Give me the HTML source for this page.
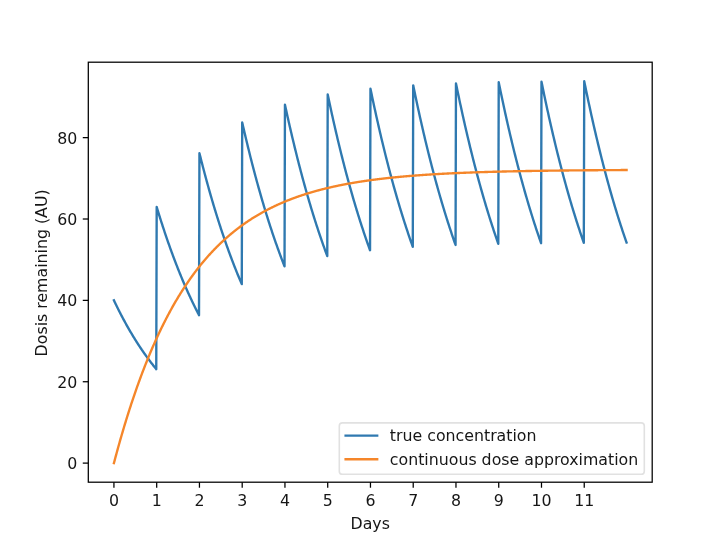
<!DOCTYPE html>
<html><head><meta charset="utf-8"><title>Dose plot</title>
<style>html,body{margin:0;padding:0;background:#fff}body{width:720px;height:541px;overflow:hidden}</style>
</head><body>
<svg width="720" height="541" viewBox="0 0 720 541" style="display:block">
<rect width="720" height="541" fill="#fff"/>
<g>
<g fill="none" stroke-width="2.368" stroke-linejoin="round" stroke-linecap="square">
<polyline stroke="#2f79b0" points="113.93,300.38 114.36,301.28 114.79,302.17 115.21,303.06 115.64,303.95 116.07,304.83 116.50,305.70 116.92,306.57 117.35,307.44 117.78,308.30 118.21,309.16 118.63,310.01 119.06,310.85 119.49,311.70 119.92,312.53 120.35,313.37 120.77,314.19 121.20,315.02 121.63,315.84 122.06,316.65 122.48,317.46 122.91,318.27 123.34,319.07 123.77,319.86 124.19,320.66 124.62,321.44 125.05,322.23 125.48,323.01 125.90,323.78 126.33,324.55 126.76,325.32 127.19,326.08 127.61,326.84 128.04,327.59 128.47,328.34 128.90,329.09 129.32,329.83 129.75,330.56 130.18,331.30 130.61,332.03 131.03,332.75 131.46,333.47 131.89,334.19 132.32,334.90 132.74,335.61 133.17,336.31 133.60,337.02 134.03,337.71 134.45,338.41 134.88,339.10 135.31,339.78 135.74,340.46 136.16,341.14 136.59,341.82 137.02,342.49 137.45,343.15 137.87,343.82 138.30,344.48 138.73,345.13 139.16,345.79 139.59,346.43 140.01,347.08 140.44,347.72 140.87,348.36 141.30,348.99 141.72,349.63 142.15,350.25 142.58,350.88 143.01,351.50 143.43,352.11 143.86,352.73 144.29,353.34 144.72,353.95 145.14,354.55 145.57,355.15 146.00,355.75 146.43,356.34 146.85,356.93 147.28,357.52 147.71,358.10 148.14,358.68 148.56,359.26 148.99,359.83 149.42,360.41 149.85,360.97 150.27,361.54 150.70,362.10 151.13,362.66 151.56,363.21 151.98,363.77 152.41,364.32 152.84,364.86 153.27,365.41 153.69,365.95 154.12,366.48 154.55,367.02 154.98,367.55 155.40,368.08 155.83,368.60 156.26,369.13 156.69,206.91 157.11,208.33 157.54,209.74 157.97,211.14 158.40,212.53 158.82,213.92 159.25,215.30 159.68,216.67 160.11,218.03 160.54,219.39 160.96,220.73 161.39,222.07 161.82,223.41 162.25,224.73 162.67,226.05 163.10,227.36 163.53,228.67 163.96,229.96 164.38,231.25 164.81,232.53 165.24,233.81 165.67,235.08 166.09,236.34 166.52,237.59 166.95,238.84 167.38,240.08 167.80,241.31 168.23,242.54 168.66,243.76 169.09,244.97 169.51,246.18 169.94,247.38 170.37,248.57 170.80,249.76 171.22,250.94 171.65,252.11 172.08,253.28 172.51,254.44 172.93,255.59 173.36,256.74 173.79,257.88 174.22,259.01 174.64,260.14 175.07,261.26 175.50,262.38 175.93,263.49 176.35,264.59 176.78,265.69 177.21,266.78 177.64,267.87 178.06,268.95 178.49,270.02 178.92,271.09 179.35,272.15 179.78,273.21 180.20,274.26 180.63,275.30 181.06,276.34 181.49,277.37 181.91,278.40 182.34,279.42 182.77,280.44 183.20,281.45 183.62,282.45 184.05,283.45 184.48,284.45 184.91,285.43 185.33,286.42 185.76,287.39 186.19,288.36 186.62,289.33 187.04,290.29 187.47,291.25 187.90,292.20 188.33,293.14 188.75,294.08 189.18,295.02 189.61,295.95 190.04,296.87 190.46,297.79 190.89,298.71 191.32,299.61 191.75,300.52 192.17,301.42 192.60,302.31 193.03,303.20 193.46,304.09 193.88,304.96 194.31,305.84 194.74,306.71 195.17,307.57 195.59,308.43 196.02,309.29 196.45,310.14 196.88,310.99 197.30,311.83 197.73,312.66 198.16,313.50 198.59,314.32 199.01,315.15 199.44,153.23 199.87,154.95 200.30,156.65 200.73,158.34 201.15,160.03 201.58,161.71 202.01,163.37 202.44,165.03 202.86,166.68 203.29,168.32 203.72,169.95 204.15,171.57 204.57,173.18 205.00,174.78 205.43,176.38 205.86,177.96 206.28,179.54 206.71,181.11 207.14,182.67 207.57,184.22 207.99,185.76 208.42,187.30 208.85,188.82 209.28,190.34 209.70,191.85 210.13,193.35 210.56,194.84 210.99,196.32 211.41,197.80 211.84,199.26 212.27,200.72 212.70,202.17 213.12,203.62 213.55,205.05 213.98,206.48 214.41,207.90 214.83,209.31 215.26,210.71 215.69,212.11 216.12,213.50 216.54,214.88 216.97,216.25 217.40,217.61 217.83,218.97 218.25,220.32 218.68,221.66 219.11,223.00 219.54,224.33 219.97,225.65 220.39,226.96 220.82,228.27 221.25,229.57 221.68,230.86 222.10,232.14 222.53,233.42 222.96,234.69 223.39,235.95 223.81,237.21 224.24,238.46 224.67,239.70 225.10,240.93 225.52,242.16 225.95,243.38 226.38,244.60 226.81,245.81 227.23,247.01 227.66,248.20 228.09,249.39 228.52,250.58 228.94,251.75 229.37,252.92 229.80,254.08 230.23,255.24 230.65,256.39 231.08,257.53 231.51,258.67 231.94,259.80 232.36,260.92 232.79,262.04 233.22,263.15 233.65,264.26 234.07,265.36 234.50,266.45 234.93,267.54 235.36,268.62 235.78,269.69 236.21,270.76 236.64,271.83 237.07,272.89 237.49,273.94 237.92,274.98 238.35,276.02 238.78,277.06 239.20,278.09 239.63,279.11 240.06,280.13 240.49,281.14 240.92,282.15 241.34,283.15 241.77,284.14 242.20,122.40 242.63,124.28 243.05,126.16 243.48,128.02 243.91,129.87 244.34,131.72 244.76,133.55 245.19,135.37 245.62,137.18 246.05,138.99 246.47,140.78 246.90,142.56 247.33,144.33 247.76,146.10 248.18,147.85 248.61,149.59 249.04,151.33 249.47,153.05 249.89,154.77 250.32,156.47 250.75,158.17 251.18,159.85 251.60,161.53 252.03,163.20 252.46,164.86 252.89,166.51 253.31,168.15 253.74,169.78 254.17,171.40 254.60,173.01 255.02,174.62 255.45,176.21 255.88,177.80 256.31,179.38 256.73,180.94 257.16,182.50 257.59,184.06 258.02,185.60 258.44,187.13 258.87,188.66 259.30,190.18 259.73,191.69 260.16,193.19 260.58,194.68 261.01,196.17 261.44,197.64 261.87,199.11 262.29,200.57 262.72,202.02 263.15,203.46 263.58,204.90 264.00,206.33 264.43,207.75 264.86,209.16 265.29,210.56 265.71,211.96 266.14,213.35 266.57,214.73 267.00,216.10 267.42,217.47 267.85,218.83 268.28,220.18 268.71,221.52 269.13,222.86 269.56,224.19 269.99,225.51 270.42,226.82 270.84,228.13 271.27,229.43 271.70,230.72 272.13,232.01 272.55,233.28 272.98,234.55 273.41,235.82 273.84,237.08 274.26,238.33 274.69,239.57 275.12,240.80 275.55,242.03 275.97,243.26 276.40,244.47 276.83,245.68 277.26,246.88 277.68,248.08 278.11,249.27 278.54,250.45 278.97,251.63 279.39,252.80 279.82,253.96 280.25,255.12 280.68,256.27 281.11,257.41 281.53,258.55 281.96,259.68 282.39,260.80 282.82,261.92 283.24,263.03 283.67,264.14 284.10,265.24 284.53,266.34 284.95,104.69 285.38,106.67 285.81,108.65 286.24,110.61 286.66,112.56 287.09,114.49 287.52,116.42 287.95,118.34 288.37,120.25 288.80,122.14 289.23,124.03 289.66,125.90 290.08,127.77 290.51,129.62 290.94,131.46 291.37,133.30 291.79,135.12 292.22,136.94 292.65,138.74 293.08,140.53 293.50,142.32 293.93,144.09 294.36,145.86 294.79,147.61 295.21,149.35 295.64,151.09 296.07,152.81 296.50,154.53 296.92,156.24 297.35,157.93 297.78,159.62 298.21,161.30 298.63,162.97 299.06,164.63 299.49,166.28 299.92,167.92 300.35,169.55 300.77,171.18 301.20,172.79 301.63,174.40 302.06,175.99 302.48,177.58 302.91,179.16 303.34,180.73 303.77,182.29 304.19,183.84 304.62,185.39 305.05,186.92 305.48,188.45 305.90,189.97 306.33,191.48 306.76,192.98 307.19,194.48 307.61,195.96 308.04,197.44 308.47,198.91 308.90,200.37 309.32,201.82 309.75,203.27 310.18,204.70 310.61,206.13 311.03,207.55 311.46,208.97 311.89,210.37 312.32,211.77 312.74,213.16 313.17,214.54 313.60,215.92 314.03,217.28 314.45,218.64 314.88,219.99 315.31,221.34 315.74,222.68 316.16,224.01 316.59,225.33 317.02,226.64 317.45,227.95 317.87,229.25 318.30,230.54 318.73,231.83 319.16,233.11 319.58,234.38 320.01,235.65 320.44,236.90 320.87,238.15 321.30,239.40 321.72,240.64 322.15,241.87 322.58,243.09 323.01,244.31 323.43,245.52 323.86,246.72 324.29,247.92 324.72,249.11 325.14,250.29 325.57,251.47 326.00,252.64 326.43,253.80 326.85,254.96 327.28,256.11 327.71,94.52 328.14,96.56 328.56,98.59 328.99,100.60 329.42,102.61 329.85,104.60 330.27,106.58 330.70,108.56 331.13,110.52 331.56,112.47 331.98,114.40 332.41,116.33 332.84,118.25 333.27,120.16 333.69,122.05 334.12,123.94 334.55,125.82 334.98,127.68 335.40,129.54 335.83,131.38 336.26,133.21 336.69,135.04 337.11,136.85 337.54,138.66 337.97,140.45 338.40,142.24 338.82,144.01 339.25,145.77 339.68,147.53 340.11,149.27 340.54,151.01 340.96,152.74 341.39,154.45 341.82,156.16 342.25,157.86 342.67,159.54 343.10,161.22 343.53,162.89 343.96,164.55 344.38,166.20 344.81,167.85 345.24,169.48 345.67,171.10 346.09,172.72 346.52,174.32 346.95,175.92 347.38,177.51 347.80,179.09 348.23,180.66 348.66,182.22 349.09,183.77 349.51,185.32 349.94,186.85 350.37,188.38 350.80,189.90 351.22,191.41 351.65,192.91 352.08,194.41 352.51,195.89 352.93,197.37 353.36,198.84 353.79,200.30 354.22,201.76 354.64,203.20 355.07,204.64 355.50,206.07 355.93,207.49 356.35,208.90 356.78,210.31 357.21,211.71 357.64,213.10 358.06,214.48 358.49,215.85 358.92,217.22 359.35,218.58 359.77,219.93 360.20,221.28 360.63,222.61 361.06,223.94 361.49,225.27 361.91,226.58 362.34,227.89 362.77,229.19 363.20,230.48 363.62,231.77 364.05,233.05 364.48,234.32 364.91,235.59 365.33,236.85 365.76,238.10 366.19,239.34 366.62,240.58 367.04,241.81 367.47,243.03 367.90,244.25 368.33,245.46 368.75,246.66 369.18,247.86 369.61,249.05 370.04,250.23 370.46,88.68 370.89,90.75 371.32,92.81 371.75,94.86 372.17,96.89 372.60,98.92 373.03,100.93 373.46,102.94 373.88,104.93 374.31,106.91 374.74,108.88 375.17,110.84 375.59,112.78 376.02,114.72 376.45,116.65 376.88,118.56 377.30,120.47 377.73,122.36 378.16,124.25 378.59,126.12 379.01,127.99 379.44,129.84 379.87,131.68 380.30,133.51 380.73,135.34 381.15,137.15 381.58,138.95 382.01,140.75 382.44,142.53 382.86,144.30 383.29,146.06 383.72,147.82 384.15,149.56 384.57,151.29 385.00,153.02 385.43,154.73 385.86,156.44 386.28,158.13 386.71,159.82 387.14,161.50 387.57,163.17 387.99,164.82 388.42,166.47 388.85,168.11 389.28,169.75 389.70,171.37 390.13,172.98 390.56,174.59 390.99,176.18 391.41,177.77 391.84,179.35 392.27,180.91 392.70,182.47 393.12,184.03 393.55,185.57 393.98,187.10 394.41,188.63 394.83,190.15 395.26,191.66 395.69,193.16 396.12,194.65 396.54,196.14 396.97,197.61 397.40,199.08 397.83,200.54 398.25,201.99 398.68,203.44 399.11,204.87 399.54,206.30 399.96,207.72 400.39,209.13 400.82,210.54 401.25,211.93 401.68,213.32 402.10,214.70 402.53,216.08 402.96,217.44 403.39,218.80 403.81,220.15 404.24,221.50 404.67,222.83 405.10,224.16 405.52,225.48 405.95,226.80 406.38,228.10 406.81,229.40 407.23,230.70 407.66,231.98 408.09,233.26 408.52,234.53 408.94,235.79 409.37,237.05 409.80,238.30 410.23,239.54 410.65,240.78 411.08,242.01 411.51,243.23 411.94,244.45 412.36,245.66 412.79,246.86 413.22,85.33 413.65,87.41 414.07,89.49 414.50,91.56 414.93,93.61 415.36,95.66 415.78,97.69 416.21,99.71 416.64,101.72 417.07,103.72 417.49,105.70 417.92,107.68 418.35,109.65 418.78,111.60 419.20,113.54 419.63,115.48 420.06,117.40 420.49,119.31 420.92,121.21 421.34,123.10 421.77,124.98 422.20,126.85 422.63,128.71 423.05,130.56 423.48,132.40 423.91,134.23 424.34,136.05 424.76,137.86 425.19,139.66 425.62,141.44 426.05,143.22 426.47,144.99 426.90,146.75 427.33,148.50 427.76,150.24 428.18,151.97 428.61,153.69 429.04,155.40 429.47,157.10 429.89,158.80 430.32,160.48 430.75,162.15 431.18,163.82 431.60,165.47 432.03,167.12 432.46,168.75 432.89,170.38 433.31,172.00 433.74,173.61 434.17,175.21 434.60,176.80 435.02,178.39 435.45,179.96 435.88,181.53 436.31,183.08 436.73,184.63 437.16,186.17 437.59,187.70 438.02,189.23 438.44,190.74 438.87,192.25 439.30,193.74 439.73,195.23 440.15,196.72 440.58,198.19 441.01,199.65 441.44,201.11 441.87,202.56 442.29,204.00 442.72,205.43 443.15,206.86 443.58,208.27 444.00,209.68 444.43,211.09 444.86,212.48 445.29,213.86 445.71,215.24 446.14,216.61 446.57,217.98 447.00,219.33 447.42,220.68 447.85,222.02 448.28,223.35 448.71,224.68 449.13,226.00 449.56,227.31 449.99,228.61 450.42,229.91 450.84,231.20 451.27,232.48 451.70,233.76 452.13,235.03 452.55,236.29 452.98,237.54 453.41,238.79 453.84,240.03 454.26,241.26 454.69,242.49 455.12,243.71 455.55,244.92 455.97,83.40 456.40,85.50 456.83,87.59 457.26,89.66 457.68,91.73 458.11,93.78 458.54,95.82 458.97,97.85 459.39,99.87 459.82,101.88 460.25,103.88 460.68,105.87 461.11,107.84 461.53,109.81 461.96,111.76 462.39,113.70 462.82,115.64 463.24,117.56 463.67,119.47 464.10,121.37 464.53,123.26 464.95,125.14 465.38,127.01 465.81,128.87 466.24,130.71 466.66,132.55 467.09,134.38 467.52,136.20 467.95,138.01 468.37,139.80 468.80,141.59 469.23,143.37 469.66,145.14 470.08,146.90 470.51,148.64 470.94,150.38 471.37,152.11 471.79,153.83 472.22,155.54 472.65,157.24 473.08,158.93 473.50,160.62 473.93,162.29 474.36,163.95 474.79,165.61 475.21,167.25 475.64,168.89 476.07,170.52 476.50,172.13 476.92,173.74 477.35,175.34 477.78,176.93 478.21,178.52 478.63,180.09 479.06,181.65 479.49,183.21 479.92,184.76 480.34,186.30 480.77,187.83 481.20,189.35 481.63,190.87 482.06,192.37 482.48,193.87 482.91,195.36 483.34,196.84 483.77,198.31 484.19,199.77 484.62,201.23 485.05,202.68 485.48,204.12 485.90,205.55 486.33,206.97 486.76,208.39 487.19,209.80 487.61,211.20 488.04,212.59 488.47,213.98 488.90,215.36 489.32,216.73 489.75,218.09 490.18,219.44 490.61,220.79 491.03,222.13 491.46,223.46 491.89,224.79 492.32,226.11 492.74,227.42 493.17,228.72 493.60,230.02 494.03,231.31 494.45,232.59 494.88,233.86 495.31,235.13 495.74,236.39 496.16,237.64 496.59,238.89 497.02,240.13 497.45,241.36 497.87,242.59 498.30,243.81 498.73,82.29 499.16,84.40 499.58,86.49 500.01,88.57 500.44,90.65 500.87,92.71 501.30,94.75 501.72,96.79 502.15,98.82 502.58,100.83 503.01,102.83 503.43,104.83 503.86,106.81 504.29,108.78 504.72,110.74 505.14,112.69 505.57,114.62 506.00,116.55 506.43,118.47 506.85,120.37 507.28,122.27 507.71,124.15 508.14,126.03 508.56,127.89 508.99,129.74 509.42,131.59 509.85,133.42 510.27,135.24 510.70,137.06 511.13,138.86 511.56,140.65 511.98,142.44 512.41,144.21 512.84,145.97 513.27,147.73 513.69,149.47 514.12,151.21 514.55,152.93 514.98,154.65 515.40,156.35 515.83,158.05 516.26,159.73 516.69,161.41 517.11,163.08 517.54,164.74 517.97,166.39 518.40,168.03 518.82,169.66 519.25,171.28 519.68,172.90 520.11,174.50 520.53,176.10 520.96,177.69 521.39,179.26 521.82,180.83 522.25,182.40 522.67,183.95 523.10,185.49 523.53,187.03 523.96,188.55 524.38,190.07 524.81,191.58 525.24,193.08 525.67,194.58 526.09,196.06 526.52,197.54 526.95,199.01 527.38,200.47 527.80,201.92 528.23,203.36 528.66,204.80 529.09,206.23 529.51,207.65 529.94,209.06 530.37,210.47 530.80,211.86 531.22,213.25 531.65,214.63 532.08,216.01 532.51,217.37 532.93,218.73 533.36,220.08 533.79,221.43 534.22,222.77 534.64,224.09 535.07,225.42 535.50,226.73 535.93,228.04 536.35,229.34 536.78,230.63 537.21,231.92 537.64,233.19 538.06,234.47 538.49,235.73 538.92,236.99 539.35,238.24 539.77,239.48 540.20,240.72 540.63,241.95 541.06,243.17 541.49,81.66 541.91,83.77 542.34,85.86 542.77,87.95 543.20,90.02 543.62,92.09 544.05,94.14 544.48,96.18 544.91,98.21 545.33,100.23 545.76,102.23 546.19,104.23 546.62,106.21 547.04,108.19 547.47,110.15 547.90,112.10 548.33,114.04 548.75,115.97 549.18,117.89 549.61,119.80 550.04,121.70 550.46,123.59 550.89,125.46 551.32,127.33 551.75,129.19 552.17,131.03 552.60,132.87 553.03,134.70 553.46,136.51 553.88,138.32 554.31,140.12 554.74,141.90 555.17,143.68 555.59,145.44 556.02,147.20 556.45,148.95 556.88,150.69 557.30,152.41 557.73,154.13 558.16,155.84 558.59,157.54 559.01,159.23 559.44,160.91 559.87,162.58 560.30,164.24 560.72,165.89 561.15,167.54 561.58,169.17 562.01,170.80 562.44,172.41 562.86,174.02 563.29,175.62 563.72,177.21 564.15,178.79 564.57,180.36 565.00,181.93 565.43,183.48 565.86,185.03 566.28,186.57 566.71,188.09 567.14,189.62 567.57,191.13 567.99,192.63 568.42,194.13 568.85,195.62 569.28,197.09 569.70,198.57 570.13,200.03 570.56,201.48 570.99,202.93 571.41,204.37 571.84,205.80 572.27,207.22 572.70,208.64 573.12,210.04 573.55,211.44 573.98,212.84 574.41,214.22 574.83,215.60 575.26,216.96 575.69,218.33 576.12,219.68 576.54,221.03 576.97,222.36 577.40,223.70 577.83,225.02 578.25,226.34 578.68,227.65 579.11,228.95 579.54,230.24 579.96,231.53 580.39,232.81 580.82,234.08 581.25,235.35 581.68,236.61 582.10,237.86 582.53,239.11 582.96,240.35 583.39,241.58 583.81,242.80 584.24,81.29 584.67,83.40 585.10,85.50 585.52,87.59 585.95,89.67 586.38,91.73 586.81,93.79 587.23,95.83 587.66,97.86 588.09,99.88 588.52,101.89 588.94,103.88 589.37,105.87 589.80,107.85 590.23,109.81 590.65,111.76 591.08,113.71 591.51,115.64 591.94,117.56 592.36,119.47 592.79,121.37 593.22,123.26 593.65,125.14 594.07,127.01 594.50,128.87 594.93,130.72 595.36,132.56 595.78,134.38 596.21,136.20 596.64,138.01 597.07,139.81 597.49,141.59 597.92,143.37 598.35,145.14 598.78,146.90 599.20,148.65 599.63,150.39 600.06,152.12 600.49,153.84 600.91,155.55 601.34,157.25 601.77,158.94 602.20,160.62 602.63,162.29 603.05,163.96 603.48,165.61 603.91,167.26 604.34,168.89 604.76,170.52 605.19,172.14 605.62,173.75 606.05,175.35 606.47,176.94 606.90,178.52 607.33,180.09 607.76,181.66 608.18,183.21 608.61,184.76 609.04,186.30 609.47,187.83 609.89,189.35 610.32,190.87 610.75,192.37 611.18,193.87 611.60,195.36 612.03,196.84 612.46,198.31 612.89,199.78 613.31,201.23 613.74,202.68 614.17,204.12 614.60,205.55 615.02,206.98 615.45,208.39 615.88,209.80 616.31,211.20 616.73,212.60 617.16,213.98 617.59,215.36 618.02,216.73 618.44,218.09 618.87,219.45 619.30,220.79 619.73,222.13 620.15,223.47 620.58,224.79 621.01,226.11 621.44,227.42 621.87,228.72 622.29,230.02 622.72,231.31 623.15,232.59 623.58,233.86 624.00,235.13 624.43,236.39 624.86,237.65 625.29,238.89 625.71,240.13 626.14,241.37 626.57,242.59"/>
<polyline stroke="#f5862a" points="113.93,463.11 114.36,461.49 114.79,459.87 115.21,458.27 115.64,456.67 116.07,455.08 116.50,453.51 116.92,451.94 117.35,450.38 117.78,448.82 118.21,447.28 118.63,445.74 119.06,444.22 119.49,442.70 119.92,441.19 120.35,439.69 120.77,438.19 121.20,436.71 121.63,435.23 122.06,433.76 122.48,432.30 122.91,430.85 123.34,429.41 123.77,427.97 124.19,426.54 124.62,425.12 125.05,423.71 125.48,422.30 125.90,420.91 126.33,419.52 126.76,418.13 127.19,416.76 127.61,415.39 128.04,414.03 128.47,412.68 128.90,411.34 129.32,410.00 129.75,408.67 130.18,407.35 130.61,406.04 131.03,404.73 131.46,403.43 131.89,402.14 132.32,400.85 132.74,399.57 133.17,398.30 133.60,397.04 134.03,395.78 134.45,394.53 134.88,393.29 135.31,392.05 135.74,390.82 136.16,389.60 136.59,388.38 137.02,387.17 137.45,385.97 137.87,384.77 138.30,383.58 138.73,382.40 139.16,381.22 139.59,380.05 140.01,378.89 140.44,377.73 140.87,376.58 141.30,375.44 141.72,374.30 142.15,373.17 142.58,372.04 143.01,370.92 143.43,369.81 143.86,368.70 144.29,367.60 144.72,366.51 145.14,365.42 145.57,364.34 146.00,363.26 146.43,362.19 146.85,361.12 147.28,360.06 147.71,359.01 148.14,357.96 148.56,356.92 148.99,355.89 149.42,354.86 149.85,353.83 150.27,352.82 150.70,351.80 151.13,350.79 151.56,349.79 151.98,348.80 152.41,347.81 152.84,346.82 153.27,345.84 153.69,344.87 154.12,343.90 154.55,342.93 154.98,341.98 155.40,341.02 155.83,340.08 156.26,339.13 156.69,338.20 157.11,337.26 157.54,336.34 157.97,335.42 158.40,334.50 158.82,333.59 159.25,332.68 159.68,331.78 160.11,330.88 160.54,329.99 160.96,329.10 161.39,328.22 161.82,327.35 162.25,326.47 162.67,325.61 163.10,324.74 163.53,323.89 163.96,323.03 164.38,322.18 164.81,321.34 165.24,320.50 165.67,319.67 166.09,318.84 166.52,318.01 166.95,317.19 167.38,316.38 167.80,315.57 168.23,314.76 168.66,313.96 169.09,313.16 169.51,312.36 169.94,311.58 170.37,310.79 170.80,310.01 171.22,309.23 171.65,308.46 172.08,307.69 172.51,306.93 172.93,306.17 173.36,305.42 173.79,304.67 174.22,303.92 174.64,303.18 175.07,302.44 175.50,301.70 175.93,300.97 176.35,300.25 176.78,299.53 177.21,298.81 177.64,298.09 178.06,297.38 178.49,296.68 178.92,295.97 179.35,295.28 179.78,294.58 180.20,293.89 180.63,293.20 181.06,292.52 181.49,291.84 181.91,291.16 182.34,290.49 182.77,289.82 183.20,289.16 183.62,288.50 184.05,287.84 184.48,287.19 184.91,286.54 185.33,285.89 185.76,285.25 186.19,284.61 186.62,283.97 187.04,283.34 187.47,282.71 187.90,282.09 188.33,281.47 188.75,280.85 189.18,280.23 189.61,279.62 190.04,279.01 190.46,278.41 190.89,277.81 191.32,277.21 191.75,276.61 192.17,276.02 192.60,275.43 193.03,274.85 193.46,274.27 193.88,273.69 194.31,273.11 194.74,272.54 195.17,271.97 195.59,271.41 196.02,270.84 196.45,270.28 196.88,269.73 197.30,269.17 197.73,268.62 198.16,268.08 198.59,267.53 199.01,266.99 199.44,266.45 199.87,265.92 200.30,265.38 200.73,264.86 201.15,264.33 201.58,263.81 202.01,263.28 202.44,262.77 202.86,262.25 203.29,261.74 203.72,261.23 204.15,260.72 204.57,260.22 205.00,259.72 205.43,259.22 205.86,258.73 206.28,258.23 206.71,257.74 207.14,257.26 207.57,256.77 207.99,256.29 208.42,255.81 208.85,255.33 209.28,254.86 209.70,254.39 210.13,253.92 210.56,253.45 210.99,252.99 211.41,252.53 211.84,252.07 212.27,251.62 212.70,251.16 213.12,250.71 213.55,250.26 213.98,249.82 214.41,249.37 214.83,248.93 215.26,248.50 215.69,248.06 216.12,247.63 216.54,247.19 216.97,246.77 217.40,246.34 217.83,245.91 218.25,245.49 218.68,245.07 219.11,244.66 219.54,244.24 219.97,243.83 220.39,243.42 220.82,243.01 221.25,242.61 221.68,242.20 222.10,241.80 222.53,241.40 222.96,241.01 223.39,240.61 223.81,240.22 224.24,239.83 224.67,239.44 225.10,239.05 225.52,238.67 225.95,238.29 226.38,237.91 226.81,237.53 227.23,237.16 227.66,236.78 228.09,236.41 228.52,236.04 228.94,235.67 229.37,235.31 229.80,234.95 230.23,234.59 230.65,234.23 231.08,233.87 231.51,233.51 231.94,233.16 232.36,232.81 232.79,232.46 233.22,232.11 233.65,231.77 234.07,231.42 234.50,231.08 234.93,230.74 235.36,230.40 235.78,230.07 236.21,229.73 236.64,229.40 237.07,229.07 237.49,228.74 237.92,228.42 238.35,228.09 238.78,227.77 239.20,227.45 239.63,227.13 240.06,226.81 240.49,226.49 240.92,226.18 241.34,225.87 241.77,225.56 242.20,225.25 242.63,224.94 243.05,224.63 243.48,224.33 243.91,224.03 244.34,223.73 244.76,223.43 245.19,223.13 245.62,222.83 246.05,222.54 246.47,222.25 246.90,221.96 247.33,221.67 247.76,221.38 248.18,221.09 248.61,220.81 249.04,220.53 249.47,220.24 249.89,219.96 250.32,219.69 250.75,219.41 251.18,219.13 251.60,218.86 252.03,218.59 252.46,218.32 252.89,218.05 253.31,217.78 253.74,217.51 254.17,217.25 254.60,216.99 255.02,216.73 255.45,216.46 255.88,216.21 256.31,215.95 256.73,215.69 257.16,215.44 257.59,215.18 258.02,214.93 258.44,214.68 258.87,214.43 259.30,214.19 259.73,213.94 260.16,213.69 260.58,213.45 261.01,213.21 261.44,212.97 261.87,212.73 262.29,212.49 262.72,212.25 263.15,212.02 263.58,211.78 264.00,211.55 264.43,211.32 264.86,211.09 265.29,210.86 265.71,210.63 266.14,210.40 266.57,210.18 267.00,209.95 267.42,209.73 267.85,209.51 268.28,209.29 268.71,209.07 269.13,208.85 269.56,208.64 269.99,208.42 270.42,208.21 270.84,207.99 271.27,207.78 271.70,207.57 272.13,207.36 272.55,207.15 272.98,206.94 273.41,206.74 273.84,206.53 274.26,206.33 274.69,206.13 275.12,205.92 275.55,205.72 275.97,205.52 276.40,205.33 276.83,205.13 277.26,204.93 277.68,204.74 278.11,204.54 278.54,204.35 278.97,204.16 279.39,203.97 279.82,203.78 280.25,203.59 280.68,203.40 281.11,203.21 281.53,203.03 281.96,202.84 282.39,202.66 282.82,202.48 283.24,202.30 283.67,202.12 284.10,201.94 284.53,201.76 284.95,201.58 285.38,201.40 285.81,201.23 286.24,201.05 286.66,200.88 287.09,200.71 287.52,200.53 287.95,200.36 288.37,200.19 288.80,200.03 289.23,199.86 289.66,199.69 290.08,199.52 290.51,199.36 290.94,199.19 291.37,199.03 291.79,198.87 292.22,198.71 292.65,198.55 293.08,198.39 293.50,198.23 293.93,198.07 294.36,197.91 294.79,197.76 295.21,197.60 295.64,197.45 296.07,197.29 296.50,197.14 296.92,196.99 297.35,196.84 297.78,196.69 298.21,196.54 298.63,196.39 299.06,196.24 299.49,196.09 299.92,195.95 300.35,195.80 300.77,195.66 301.20,195.51 301.63,195.37 302.06,195.23 302.48,195.09 302.91,194.94 303.34,194.80 303.77,194.67 304.19,194.53 304.62,194.39 305.05,194.25 305.48,194.12 305.90,193.98 306.33,193.85 306.76,193.71 307.19,193.58 307.61,193.45 308.04,193.32 308.47,193.19 308.90,193.06 309.32,192.93 309.75,192.80 310.18,192.67 310.61,192.54 311.03,192.41 311.46,192.29 311.89,192.16 312.32,192.04 312.74,191.92 313.17,191.79 313.60,191.67 314.03,191.55 314.45,191.43 314.88,191.31 315.31,191.19 315.74,191.07 316.16,190.95 316.59,190.83 317.02,190.71 317.45,190.60 317.87,190.48 318.30,190.37 318.73,190.25 319.16,190.14 319.58,190.02 320.01,189.91 320.44,189.80 320.87,189.69 321.30,189.58 321.72,189.47 322.15,189.36 322.58,189.25 323.01,189.14 323.43,189.03 323.86,188.93 324.29,188.82 324.72,188.71 325.14,188.61 325.57,188.50 326.00,188.40 326.43,188.29 326.85,188.19 327.28,188.09 327.71,187.99 328.14,187.89 328.56,187.78 328.99,187.68 329.42,187.58 329.85,187.49 330.27,187.39 330.70,187.29 331.13,187.19 331.56,187.09 331.98,187.00 332.41,186.90 332.84,186.81 333.27,186.71 333.69,186.62 334.12,186.52 334.55,186.43 334.98,186.34 335.40,186.24 335.83,186.15 336.26,186.06 336.69,185.97 337.11,185.88 337.54,185.79 337.97,185.70 338.40,185.61 338.82,185.52 339.25,185.44 339.68,185.35 340.11,185.26 340.54,185.18 340.96,185.09 341.39,185.00 341.82,184.92 342.25,184.84 342.67,184.75 343.10,184.67 343.53,184.58 343.96,184.50 344.38,184.42 344.81,184.34 345.24,184.26 345.67,184.18 346.09,184.10 346.52,184.02 346.95,183.94 347.38,183.86 347.80,183.78 348.23,183.70 348.66,183.62 349.09,183.55 349.51,183.47 349.94,183.39 350.37,183.32 350.80,183.24 351.22,183.17 351.65,183.09 352.08,183.02 352.51,182.94 352.93,182.87 353.36,182.80 353.79,182.72 354.22,182.65 354.64,182.58 355.07,182.51 355.50,182.44 355.93,182.37 356.35,182.30 356.78,182.23 357.21,182.16 357.64,182.09 358.06,182.02 358.49,181.95 358.92,181.88 359.35,181.81 359.77,181.75 360.20,181.68 360.63,181.61 361.06,181.55 361.49,181.48 361.91,181.42 362.34,181.35 362.77,181.29 363.20,181.22 363.62,181.16 364.05,181.09 364.48,181.03 364.91,180.97 365.33,180.90 365.76,180.84 366.19,180.78 366.62,180.72 367.04,180.66 367.47,180.60 367.90,180.54 368.33,180.48 368.75,180.42 369.18,180.36 369.61,180.30 370.04,180.24 370.46,180.18 370.89,180.12 371.32,180.06 371.75,180.01 372.17,179.95 372.60,179.89 373.03,179.83 373.46,179.78 373.88,179.72 374.31,179.67 374.74,179.61 375.17,179.56 375.59,179.50 376.02,179.45 376.45,179.39 376.88,179.34 377.30,179.29 377.73,179.23 378.16,179.18 378.59,179.13 379.01,179.07 379.44,179.02 379.87,178.97 380.30,178.92 380.73,178.87 381.15,178.82 381.58,178.77 382.01,178.71 382.44,178.66 382.86,178.61 383.29,178.57 383.72,178.52 384.15,178.47 384.57,178.42 385.00,178.37 385.43,178.32 385.86,178.27 386.28,178.23 386.71,178.18 387.14,178.13 387.57,178.08 387.99,178.04 388.42,177.99 388.85,177.94 389.28,177.90 389.70,177.85 390.13,177.81 390.56,177.76 390.99,177.72 391.41,177.67 391.84,177.63 392.27,177.58 392.70,177.54 393.12,177.50 393.55,177.45 393.98,177.41 394.41,177.37 394.83,177.32 395.26,177.28 395.69,177.24 396.12,177.20 396.54,177.16 396.97,177.11 397.40,177.07 397.83,177.03 398.25,176.99 398.68,176.95 399.11,176.91 399.54,176.87 399.96,176.83 400.39,176.79 400.82,176.75 401.25,176.71 401.68,176.67 402.10,176.63 402.53,176.60 402.96,176.56 403.39,176.52 403.81,176.48 404.24,176.44 404.67,176.41 405.10,176.37 405.52,176.33 405.95,176.29 406.38,176.26 406.81,176.22 407.23,176.18 407.66,176.15 408.09,176.11 408.52,176.08 408.94,176.04 409.37,176.01 409.80,175.97 410.23,175.94 410.65,175.90 411.08,175.87 411.51,175.83 411.94,175.80 412.36,175.76 412.79,175.73 413.22,175.70 413.65,175.66 414.07,175.63 414.50,175.60 414.93,175.56 415.36,175.53 415.78,175.50 416.21,175.47 416.64,175.43 417.07,175.40 417.49,175.37 417.92,175.34 418.35,175.31 418.78,175.27 419.20,175.24 419.63,175.21 420.06,175.18 420.49,175.15 420.92,175.12 421.34,175.09 421.77,175.06 422.20,175.03 422.63,175.00 423.05,174.97 423.48,174.94 423.91,174.91 424.34,174.88 424.76,174.85 425.19,174.83 425.62,174.80 426.05,174.77 426.47,174.74 426.90,174.71 427.33,174.68 427.76,174.66 428.18,174.63 428.61,174.60 429.04,174.57 429.47,174.55 429.89,174.52 430.32,174.49 430.75,174.47 431.18,174.44 431.60,174.41 432.03,174.39 432.46,174.36 432.89,174.33 433.31,174.31 433.74,174.28 434.17,174.26 434.60,174.23 435.02,174.21 435.45,174.18 435.88,174.15 436.31,174.13 436.73,174.11 437.16,174.08 437.59,174.06 438.02,174.03 438.44,174.01 438.87,173.98 439.30,173.96 439.73,173.94 440.15,173.91 440.58,173.89 441.01,173.86 441.44,173.84 441.87,173.82 442.29,173.80 442.72,173.77 443.15,173.75 443.58,173.73 444.00,173.70 444.43,173.68 444.86,173.66 445.29,173.64 445.71,173.61 446.14,173.59 446.57,173.57 447.00,173.55 447.42,173.53 447.85,173.51 448.28,173.49 448.71,173.46 449.13,173.44 449.56,173.42 449.99,173.40 450.42,173.38 450.84,173.36 451.27,173.34 451.70,173.32 452.13,173.30 452.55,173.28 452.98,173.26 453.41,173.24 453.84,173.22 454.26,173.20 454.69,173.18 455.12,173.16 455.55,173.14 455.97,173.12 456.40,173.10 456.83,173.08 457.26,173.06 457.68,173.04 458.11,173.03 458.54,173.01 458.97,172.99 459.39,172.97 459.82,172.95 460.25,172.93 460.68,172.91 461.11,172.90 461.53,172.88 461.96,172.86 462.39,172.84 462.82,172.83 463.24,172.81 463.67,172.79 464.10,172.77 464.53,172.76 464.95,172.74 465.38,172.72 465.81,172.70 466.24,172.69 466.66,172.67 467.09,172.65 467.52,172.64 467.95,172.62 468.37,172.60 468.80,172.59 469.23,172.57 469.66,172.56 470.08,172.54 470.51,172.52 470.94,172.51 471.37,172.49 471.79,172.48 472.22,172.46 472.65,172.44 473.08,172.43 473.50,172.41 473.93,172.40 474.36,172.38 474.79,172.37 475.21,172.35 475.64,172.34 476.07,172.32 476.50,172.31 476.92,172.29 477.35,172.28 477.78,172.26 478.21,172.25 478.63,172.24 479.06,172.22 479.49,172.21 479.92,172.19 480.34,172.18 480.77,172.16 481.20,172.15 481.63,172.14 482.06,172.12 482.48,172.11 482.91,172.10 483.34,172.08 483.77,172.07 484.19,172.06 484.62,172.04 485.05,172.03 485.48,172.02 485.90,172.00 486.33,171.99 486.76,171.98 487.19,171.96 487.61,171.95 488.04,171.94 488.47,171.93 488.90,171.91 489.32,171.90 489.75,171.89 490.18,171.88 490.61,171.86 491.03,171.85 491.46,171.84 491.89,171.83 492.32,171.81 492.74,171.80 493.17,171.79 493.60,171.78 494.03,171.77 494.45,171.75 494.88,171.74 495.31,171.73 495.74,171.72 496.16,171.71 496.59,171.70 497.02,171.69 497.45,171.67 497.87,171.66 498.30,171.65 498.73,171.64 499.16,171.63 499.58,171.62 500.01,171.61 500.44,171.60 500.87,171.59 501.30,171.58 501.72,171.57 502.15,171.55 502.58,171.54 503.01,171.53 503.43,171.52 503.86,171.51 504.29,171.50 504.72,171.49 505.14,171.48 505.57,171.47 506.00,171.46 506.43,171.45 506.85,171.44 507.28,171.43 507.71,171.42 508.14,171.41 508.56,171.40 508.99,171.39 509.42,171.38 509.85,171.37 510.27,171.36 510.70,171.35 511.13,171.34 511.56,171.34 511.98,171.33 512.41,171.32 512.84,171.31 513.27,171.30 513.69,171.29 514.12,171.28 514.55,171.27 514.98,171.26 515.40,171.25 515.83,171.24 516.26,171.24 516.69,171.23 517.11,171.22 517.54,171.21 517.97,171.20 518.40,171.19 518.82,171.18 519.25,171.17 519.68,171.17 520.11,171.16 520.53,171.15 520.96,171.14 521.39,171.13 521.82,171.12 522.25,171.12 522.67,171.11 523.10,171.10 523.53,171.09 523.96,171.08 524.38,171.08 524.81,171.07 525.24,171.06 525.67,171.05 526.09,171.04 526.52,171.04 526.95,171.03 527.38,171.02 527.80,171.01 528.23,171.01 528.66,171.00 529.09,170.99 529.51,170.98 529.94,170.98 530.37,170.97 530.80,170.96 531.22,170.95 531.65,170.95 532.08,170.94 532.51,170.93 532.93,170.93 533.36,170.92 533.79,170.91 534.22,170.90 534.64,170.90 535.07,170.89 535.50,170.88 535.93,170.88 536.35,170.87 536.78,170.86 537.21,170.86 537.64,170.85 538.06,170.84 538.49,170.84 538.92,170.83 539.35,170.82 539.77,170.82 540.20,170.81 540.63,170.80 541.06,170.80 541.49,170.79 541.91,170.79 542.34,170.78 542.77,170.77 543.20,170.77 543.62,170.76 544.05,170.75 544.48,170.75 544.91,170.74 545.33,170.74 545.76,170.73 546.19,170.72 546.62,170.72 547.04,170.71 547.47,170.71 547.90,170.70 548.33,170.69 548.75,170.69 549.18,170.68 549.61,170.68 550.04,170.67 550.46,170.67 550.89,170.66 551.32,170.65 551.75,170.65 552.17,170.64 552.60,170.64 553.03,170.63 553.46,170.63 553.88,170.62 554.31,170.62 554.74,170.61 555.17,170.61 555.59,170.60 556.02,170.59 556.45,170.59 556.88,170.58 557.30,170.58 557.73,170.57 558.16,170.57 558.59,170.56 559.01,170.56 559.44,170.55 559.87,170.55 560.30,170.54 560.72,170.54 561.15,170.53 561.58,170.53 562.01,170.52 562.44,170.52 562.86,170.51 563.29,170.51 563.72,170.50 564.15,170.50 564.57,170.49 565.00,170.49 565.43,170.49 565.86,170.48 566.28,170.48 566.71,170.47 567.14,170.47 567.57,170.46 567.99,170.46 568.42,170.45 568.85,170.45 569.28,170.44 569.70,170.44 570.13,170.44 570.56,170.43 570.99,170.43 571.41,170.42 571.84,170.42 572.27,170.41 572.70,170.41 573.12,170.41 573.55,170.40 573.98,170.40 574.41,170.39 574.83,170.39 575.26,170.38 575.69,170.38 576.12,170.38 576.54,170.37 576.97,170.37 577.40,170.36 577.83,170.36 578.25,170.36 578.68,170.35 579.11,170.35 579.54,170.35 579.96,170.34 580.39,170.34 580.82,170.33 581.25,170.33 581.68,170.33 582.10,170.32 582.53,170.32 582.96,170.31 583.39,170.31 583.81,170.31 584.24,170.30 584.67,170.30 585.10,170.30 585.52,170.29 585.95,170.29 586.38,170.29 586.81,170.28 587.23,170.28 587.66,170.28 588.09,170.27 588.52,170.27 588.94,170.26 589.37,170.26 589.80,170.26 590.23,170.25 590.65,170.25 591.08,170.25 591.51,170.24 591.94,170.24 592.36,170.24 592.79,170.23 593.22,170.23 593.65,170.23 594.07,170.22 594.50,170.22 594.93,170.22 595.36,170.22 595.78,170.21 596.21,170.21 596.64,170.21 597.07,170.20 597.49,170.20 597.92,170.20 598.35,170.19 598.78,170.19 599.20,170.19 599.63,170.18 600.06,170.18 600.49,170.18 600.91,170.18 601.34,170.17 601.77,170.17 602.20,170.17 602.63,170.16 603.05,170.16 603.48,170.16 603.91,170.16 604.34,170.15 604.76,170.15 605.19,170.15 605.62,170.14 606.05,170.14 606.47,170.14 606.90,170.14 607.33,170.13 607.76,170.13 608.18,170.13 608.61,170.13 609.04,170.12 609.47,170.12 609.89,170.12 610.32,170.11 610.75,170.11 611.18,170.11 611.60,170.11 612.03,170.10 612.46,170.10 612.89,170.10 613.31,170.10 613.74,170.09 614.17,170.09 614.60,170.09 615.02,170.09 615.45,170.08 615.88,170.08 616.31,170.08 616.73,170.08 617.16,170.07 617.59,170.07 618.02,170.07 618.44,170.07 618.87,170.07 619.30,170.06 619.73,170.06 620.15,170.06 620.58,170.06 621.01,170.05 621.44,170.05 621.87,170.05 622.29,170.05 622.72,170.04 623.15,170.04 623.58,170.04 624.00,170.04 624.43,170.04 624.86,170.03 625.29,170.03 625.71,170.03 626.14,170.03 626.57,170.03"/>
</g>
<rect x="88.3" y="62.2" width="563.90" height="420.00" fill="none" stroke="#000" stroke-width="1.263"/>
<g stroke="#000" stroke-width="1.263">
<line x1="113.93" x2="113.93" y1="482.2" y2="487.73"/>
<line x1="156.69" x2="156.69" y1="482.2" y2="487.73"/>
<line x1="199.44" x2="199.44" y1="482.2" y2="487.73"/>
<line x1="242.20" x2="242.20" y1="482.2" y2="487.73"/>
<line x1="284.95" x2="284.95" y1="482.2" y2="487.73"/>
<line x1="327.71" x2="327.71" y1="482.2" y2="487.73"/>
<line x1="370.46" x2="370.46" y1="482.2" y2="487.73"/>
<line x1="413.22" x2="413.22" y1="482.2" y2="487.73"/>
<line x1="455.97" x2="455.97" y1="482.2" y2="487.73"/>
<line x1="498.73" x2="498.73" y1="482.2" y2="487.73"/>
<line x1="541.49" x2="541.49" y1="482.2" y2="487.73"/>
<line x1="584.24" x2="584.24" y1="482.2" y2="487.73"/>
<line x1="88.3" x2="82.77" y1="463.11" y2="463.11"/>
<line x1="88.3" x2="82.77" y1="381.74" y2="381.74"/>
<line x1="88.3" x2="82.77" y1="300.38" y2="300.38"/>
<line x1="88.3" x2="82.77" y1="219.01" y2="219.01"/>
<line x1="88.3" x2="82.77" y1="137.65" y2="137.65"/>
</g>
<g font-family="DejaVu Sans, Liberation Sans, sans-serif" font-size="15.79" fill="#161616">
<text x="113.93" y="506.05" text-anchor="middle">0</text>
<text x="156.69" y="506.05" text-anchor="middle">1</text>
<text x="199.44" y="506.05" text-anchor="middle">2</text>
<text x="242.20" y="506.05" text-anchor="middle">3</text>
<text x="284.95" y="506.05" text-anchor="middle">4</text>
<text x="327.71" y="506.05" text-anchor="middle">5</text>
<text x="370.46" y="506.05" text-anchor="middle">6</text>
<text x="413.22" y="506.05" text-anchor="middle">7</text>
<text x="455.97" y="506.05" text-anchor="middle">8</text>
<text x="498.73" y="506.05" text-anchor="middle">9</text>
<text x="541.49" y="506.05" text-anchor="middle">10</text>
<text x="584.24" y="506.05" text-anchor="middle">11</text>
<text x="77.25" y="469.11" text-anchor="end">0</text>
<text x="77.25" y="387.74" text-anchor="end">20</text>
<text x="77.25" y="306.38" text-anchor="end">40</text>
<text x="77.25" y="225.01" text-anchor="end">60</text>
<text x="77.25" y="143.65" text-anchor="end">80</text>
<text x="370.25" y="528.6" text-anchor="middle">Days</text>
<text transform="translate(46.5,272.90) rotate(-90)" text-anchor="middle">Dosis remaining (AU)</text>
</g>
<rect x="339.3" y="422.9" width="305.00" height="51.40" rx="3.16" fill="#fff" fill-opacity="0.8" stroke="#dcdcdc" stroke-opacity="0.85" stroke-width="1.579"/>
<g fill="none" stroke-width="2.368" stroke-linecap="square">
<line x1="345.62" x2="377.19" y1="435.6" y2="435.6" stroke="#2f79b0"/>
<line x1="345.62" x2="377.19" y1="459.3" y2="459.3" stroke="#f5862a"/>
</g>
<g font-family="DejaVu Sans, Liberation Sans, sans-serif" font-size="15.79" fill="#161616">
<text x="389.82" y="441.13">true concentration</text>
<text x="389.82" y="464.83">continuous dose approximation</text>
</g>
</g>
</svg>
</body></html>
